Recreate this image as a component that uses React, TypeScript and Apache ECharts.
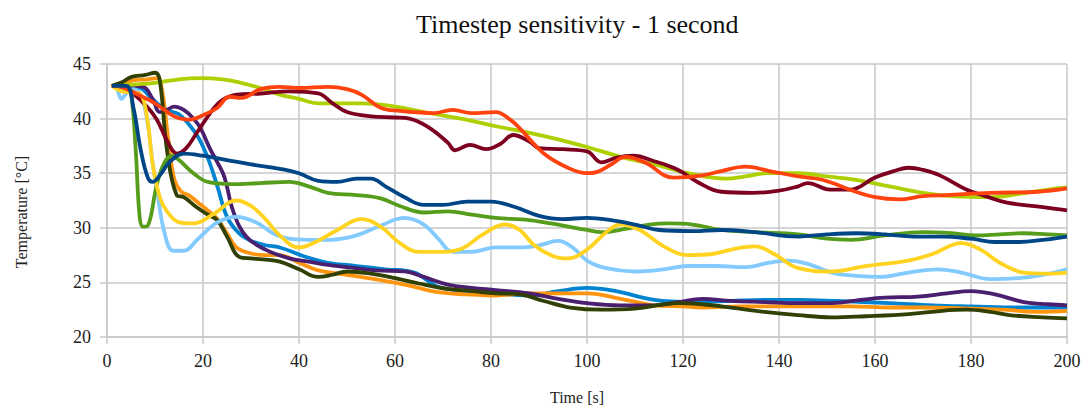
import React, { useEffect, useRef } from "react";
import * as echarts from "echarts";

const titleText = "Timestep sensitivity - 1 second";
const xName = "Time [s]";
const yName = "Temperature [°C]";

const navy: number[][] = [[1,43],[4,43],[5.5,41],[7,37.2],[8.5,34.6],[9.5,34.2],[11,34.8],[13,36],[16,36.8],[20,36.6],[25,36.2],[30,35.8],[36,35.4],[40,35],[44,34.3],[48,34.2],[52,34.5],[55,34.5],[58,33.8],[62,32.8],[66,32.1],[70,32.1],[75,32.4],[80,32.4],[85,31.9],[90,31.1],[95,30.8],[100,30.9],[105,30.7],[110,30.3],[115,29.8],[122,29.7],[128,29.8],[135,29.6],[144,29.2],[150,29.4],[156,29.5],[162,29.4],[168,29.2],[174,29.2],[180,29.0],[185,28.7],[190,28.7],[195,28.9],[200,29.2]];
const orangeRed: number[][] = [[1,43],[3,42.9],[6,42.3],[10,41.4],[14,40.2],[17,39.9],[20,40.3],[23,41],[25.5,42],[28,41.9],[32,42.7],[36,42.9],[40,42.8],[46,42.9],[50,42.7],[53,42.2],[57,41],[61,40.7],[64,40.6],[68,40.5],[72,40.8],[76,40.5],[81,40.6],[84,39.9],[86,39.1],[91,36.8],[96,35.5],[100,35],[102,35.1],[105,35.8],[108,36.5],[112,36],[118,34.6],[124,34.8],[128,35.2],[133,35.6],[138,35.2],[144,34.7],[149,34.4],[156,33.3],[160,32.8],[165,32.6],[170,32.9],[175,33.0],[184,33.2],[194,33.3],[200,33.6]];
const yellow: number[][] = [[1,43],[3,42.5],[5,42.4],[7,42.2],[8.3,40.2],[9.6,35.6],[11,32.8],[12.5,31.5],[15,30.5],[18,30.4],[22,31.2],[27,32.5],[30,32],[33,30.8],[36,29.3],[40,28.2],[43,28.6],[48,29.8],[53,30.8],[57,30.1],[61,28.6],[65,27.8],[70,27.8],[74,28.1],[78,29.3],[83,30.3],[86,29.8],[89,28.4],[93,27.4],[96,27.2],[100,28],[104,29.6],[107,30.3],[111,29.8],[116,28.3],[121,27.5],[126,27.6],[131,28.1],[135,28.3],[139,27.6],[144,26.3],[151,26.0],[158,26.5],[167,27.0],[172,27.6],[178,28.6],[182,28.0],[186,26.8],[191,25.9],[196,25.8],[200,25.9]];
const green: number[][] = [[1,43],[4.5,42.8],[5.2,41.7],[6,37],[6.8,31],[7.5,30.1],[8.5,30.2],[10.4,34],[12,36],[13.5,36.6],[15,36.2],[18,35],[21,34.2],[26,34],[32,34.1],[38,34.2],[42,33.8],[46,33.2],[52,33],[57,32.7],[61,32],[66,31.4],[71,31.5],[76,31.2],[81,30.9],[88,30.7],[95,30.2],[100,29.8],[103,29.6],[108,29.9],[113,30.3],[117,30.4],[122,30.3],[128,29.8],[135,29.6],[144,29.4],[150,29.0],[155,28.9],[162,29.3],[170,29.6],[176,29.5],[181,29.3],[186,29.4],[191,29.5],[196,29.4],[200,29.3]];
const maroon: number[][] = [[1,43],[3,42.9],[5.4,42.3],[8.3,41.1],[10.4,39.9],[12.5,38.0],[14.6,36.8],[16.5,37.3],[18.7,38.7],[22,40.8],[24,41.7],[27,42.2],[32,42.3],[38,42.5],[44,42.3],[47,41.4],[50,40.6],[55,40.2],[60,40.1],[63,40.0],[67,39.2],[71,37.8],[72.5,37.1],[75.6,37.6],[79,37.2],[82,37.7],[84.6,38.5],[88,37.9],[90,37.3],[95,37.2],[100,37],[103,36],[106,36.4],[109.6,36.6],[114,36.1],[119,35.3],[123,34.2],[128,33.3],[134.6,33.2],[140,33.4],[144,33.8],[146,34.1],[150.6,33.5],[154.8,33.5],[160,34.6],[164,35.2],[167,35.5],[170,35.3],[173.5,34.8],[179,33.5],[183,32.9],[187.5,32.3],[195,31.9],[200,31.6]];
const lightBlue: number[][] = [[1,43],[2,42.8],[3,41.8],[4,42.3],[5.5,42.7],[7,42.2],[8.3,40],[9.5,36],[10.4,33.5],[12,29.5],[13.8,27.9],[16,27.9],[19,29],[23,30.5],[27,31],[31,30.5],[35,29.4],[38,29.0],[42,28.9],[46.5,28.9],[52,29.3],[57,30.2],[62,30.9],[66,30.3],[69,29],[72,27.8],[76,27.8],[81,28.2],[86,28.2],[90,28.4],[94,28.8],[97,28.2],[100,27],[104,26.3],[110,26.0],[116,26.2],[121,26.5],[127,26.5],[133,26.4],[138,26.8],[142,27],[146,26.7],[151,25.9],[156,25.6],[161,25.5],[167,25.9],[173,26.2],[178,25.9],[184,25.3],[190,25.4],[195,25.7],[200,26.2]];
const darkOlive: number[][] = [[1,43],[3,43.3],[5,43.8],[8,44.0],[10,44.2],[11,43.5],[12.5,37.1],[14.5,33.0],[16,32.8],[18.6,31.9],[21,31.2],[23,30.7],[25,29.2],[27.7,27.3],[30,27.2],[32.5,27.1],[36,26.9],[40,26.2],[44,25.5],[47,25.7],[50,26],[55,25.8],[60,25.4],[65,24.9],[71,24.4],[76,24.2],[81,24.0],[86,23.9],[91,23.3],[96.5,22.7],[103,22.5],[110,22.6],[119,23.1],[124,23],[130,22.7],[137,22.3],[144,22.0],[151,21.8],[158,21.9],[167,22.1],[174,22.4],[179,22.5],[184,22.3],[188,22.0],[195,21.8],[200,21.7]];
const yellowGreen: number[][] = [[1,43],[5,43.1],[10.4,43.3],[15,43.6],[19.4,43.7],[24,43.6],[27.7,43.3],[32,42.8],[36,42.2],[40,41.8],[44,41.4],[50,41.4],[53,41.4],[60,41.1],[66,40.6],[71,40.2],[76,39.8],[81,39.3],[88,38.7],[94,38.1],[100,37.4],[107,36.5],[114,35.8],[121,35.0],[129,34.5],[133,34.7],[137.5,35.0],[144,35.0],[150,34.7],[156,34.4],[163,33.8],[170,33.2],[176,32.9],[184,32.8],[190,33.1],[196,33.5],[200,33.7]];
const purple: number[][] = [[1,43],[4,43],[7.5,42.9],[9.5,41.8],[11,40.6],[12.5,40.8],[14,41.1],[16,40.8],[18,40],[19.5,39.1],[21.5,37.2],[23,36],[24.5,34.6],[26.3,31.5],[29,29.2],[33,28],[38,27.2],[42,26.9],[46,26.6],[50,26.4],[56,26.1],[62,26],[66,25.5],[71,24.8],[76,24.5],[81,24.3],[88,24.0],[94,23.5],[100,23.1],[107,22.9],[114,22.9],[119,23.2],[124,23.5],[130,23.3],[137,23.2],[144,23.1],[151,23.1],[157,23.4],[162,23.6],[169,23.7],[175,24.0],[180,24.2],[185,23.9],[191,23.2],[196,23.0],[200,22.9]];
const orange: number[][] = [[1,43],[3,43.2],[5.5,43.5],[8.5,43.6],[10.5,43.7],[11.5,42.5],[12.8,38],[14,34.5],[15.5,33.3],[17,33],[19,32.3],[21,31.6],[23,30.8],[25,29.5],[27,28.2],[30.5,27.6],[33,27.5],[36,27.5],[40,26.8],[44,26.1],[50,25.7],[57,25.2],[63,24.7],[69,24.1],[75,23.9],[81,23.8],[88,24.0],[94,24.0],[100,24.0],[107,23.5],[114,22.9],[120,22.8],[124,22.7],[132,22.8],[144,22.8],[155,22.8],[163,22.7],[170,22.7],[180,22.6],[187,22.5],[194,22.3],[200,22.4]];
const blue: number[][] = [[1,43],[4,43],[7,42.8],[9,42],[11,41.2],[13,40.7],[15,40.4],[17,39.5],[19,38.3],[21,36.4],[23,33.8],[25,31],[27.5,29.5],[30,28.8],[33,28.4],[36,28.2],[41,27.4],[46,26.8],[52,26.5],[58,26.2],[64,25.9],[69,24.6],[75,24.2],[81,24.0],[88,23.8],[94,24.2],[100,24.5],[106,24.2],[114,23.4],[122,23.2],[130,23.3],[138,23.4],[144,23.4],[152,23.3],[163,23.1],[172,22.9],[180,22.8],[190,22.7],[200,22.7]];

// drawn bottom to top
const seriesList: { name: string; color: string; data: number[][] }[] = [
  { name: "S12", color: "#0084d1", data: blue },
  { name: "S10", color: "#ff950e", data: orange },
  { name: "S9", color: "#4b1f6f", data: purple },
  { name: "S8", color: "#aecf00", data: yellowGreen },
  { name: "S7", color: "#314004", data: darkOlive },
  { name: "S6", color: "#83caff", data: lightBlue },
  { name: "S5", color: "#7e0021", data: maroon },
  { name: "S4", color: "#579d1c", data: green },
  { name: "S3", color: "#ffd320", data: yellow },
  { name: "S2", color: "#ff420e", data: orangeRed },
  { name: "S1", color: "#004586", data: navy },
];

const serif = "'Liberation Serif', 'DejaVu Serif', serif";
const gridColor = "#c8c8c8";

export default function App() {
  const ref = useRef<HTMLDivElement>(null);
  useEffect(() => {
    if (!ref.current) return;
    const chart = echarts.init(ref.current, undefined, { renderer: "svg" });
    chart.setOption({
      animation: false,
      backgroundColor: "#ffffff",
      title: {
        text: titleText,
        left: 411,
        top: 6,
        textStyle: { fontFamily: serif, fontSize: 26, fontWeight: "normal", color: "#111" },
      },
      grid: { left: 107, right: 21, top: 64, bottom: 75 },
      xAxis: {
        type: "value",
        min: 0,
        max: 200,
        interval: 20,
        axisLine: { show: true, lineStyle: { color: gridColor, width: 1.5 } },
        axisTick: { show: true, inside: false, length: 7, lineStyle: { color: gridColor, width: 1.5 } },
        splitLine: { show: true, lineStyle: { color: gridColor, width: 1.5 } },
        axisLabel: { fontFamily: serif, fontSize: 18, color: "#222", margin: 15 },
      },
      yAxis: {
        type: "value",
        min: 20,
        max: 45,
        interval: 5,
        axisLine: { show: true, lineStyle: { color: gridColor, width: 1.5 } },
        axisTick: { show: true, inside: false, length: 7, lineStyle: { color: gridColor, width: 1.5 } },
        splitLine: { show: true, lineStyle: { color: gridColor, width: 1.5 } },
        axisLabel: { fontFamily: serif, fontSize: 18, color: "#222", margin: 16 },
      },
      graphic: [
        {
          type: "text",
          x: 577,
          y: 397,
          style: { text: xName, font: "16px " + serif, fill: "#222", textAlign: "center", textVerticalAlign: "middle" },
        },
        {
          type: "text",
          x: 21,
          y: 212,
          rotation: Math.PI / 2,
          style: { text: yName, font: "16px " + serif, fill: "#222", textAlign: "center", textVerticalAlign: "middle" },
        },
      ],
      series: seriesList.map((s) => ({
        name: s.name,
        type: "line",
        data: s.data,
        smooth: 0.4,
        showSymbol: false,
        symbol: "none",
        lineStyle: { color: s.color, width: 3.8 },
        itemStyle: { color: s.color },
      })),
    });
    return () => chart.dispose();
  }, []);
  return (
    <div
      ref={ref}
      style={{ position: "fixed", left: 0, top: 0, width: 1088, height: 412, background: "#fff" }}
    />
  );
}
